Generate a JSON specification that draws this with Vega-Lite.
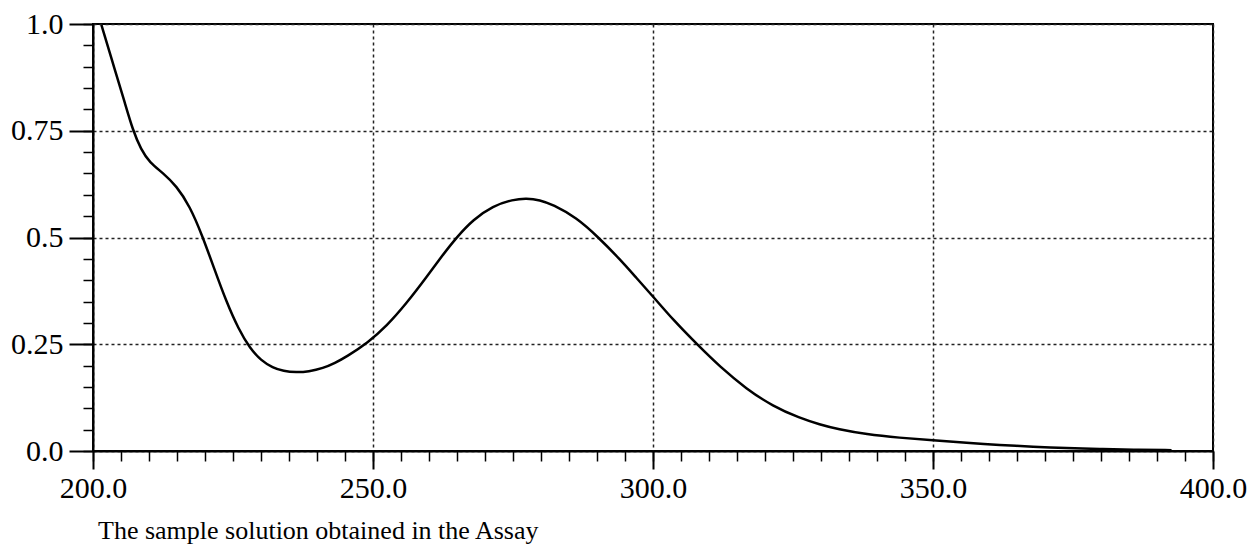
{
  "$schema": "https://vega.github.io/schema/vega-lite/v6.json",
  "width": 1120,
  "height": 427,
  "autosize": {"type": "none"},
  "padding": {"left": 93, "top": 24, "right": 41, "bottom": 93},
  "background": "white",
  "config": {
    "view": {"stroke": "black", "strokeWidth": 2},
    "font": "Liberation Serif"
  },
  "title": {
    "text": "The sample solution obtained in the Assay",
    "orient": "bottom",
    "anchor": "start",
    "frame": "group",
    "dx": 5,
    "offset": 15,
    "font": "Liberation Serif",
    "fontSize": 26,
    "fontWeight": "normal",
    "color": "black"
  },
  "data": {
    "values": [
      {"nm": 201.5, "abs": 0.998},
      {"nm": 203.9, "abs": 0.893},
      {"nm": 205.7, "abs": 0.815},
      {"nm": 207.1, "abs": 0.752},
      {"nm": 208.6, "abs": 0.705},
      {"nm": 210.1, "abs": 0.676},
      {"nm": 212.5, "abs": 0.651},
      {"nm": 214.9, "abs": 0.621},
      {"nm": 217.3, "abs": 0.573},
      {"nm": 219.5, "abs": 0.505},
      {"nm": 221.7, "abs": 0.425},
      {"nm": 223.8, "abs": 0.350},
      {"nm": 226.0, "abs": 0.285},
      {"nm": 228.0, "abs": 0.241},
      {"nm": 230.0, "abs": 0.212},
      {"nm": 232.1, "abs": 0.195},
      {"nm": 234.0, "abs": 0.187},
      {"nm": 236.3, "abs": 0.184},
      {"nm": 238.5, "abs": 0.186},
      {"nm": 241.1, "abs": 0.194},
      {"nm": 243.2, "abs": 0.206},
      {"nm": 245.3, "abs": 0.221},
      {"nm": 249.1, "abs": 0.254},
      {"nm": 252.4, "abs": 0.292},
      {"nm": 256.0, "abs": 0.346},
      {"nm": 259.5, "abs": 0.406},
      {"nm": 262.5, "abs": 0.460},
      {"nm": 264.9, "abs": 0.500},
      {"nm": 267.9, "abs": 0.542},
      {"nm": 271.4, "abs": 0.574},
      {"nm": 275.0, "abs": 0.589},
      {"nm": 277.4, "abs": 0.592},
      {"nm": 279.8, "abs": 0.588},
      {"nm": 282.1, "abs": 0.577},
      {"nm": 286.3, "abs": 0.547},
      {"nm": 290.2, "abs": 0.501},
      {"nm": 294.1, "abs": 0.449},
      {"nm": 297.0, "abs": 0.406},
      {"nm": 300.0, "abs": 0.362},
      {"nm": 303.6, "abs": 0.307},
      {"nm": 308.0, "abs": 0.248},
      {"nm": 311.9, "abs": 0.198},
      {"nm": 316.7, "abs": 0.145},
      {"nm": 321.4, "abs": 0.105},
      {"nm": 326.2, "abs": 0.077},
      {"nm": 329.8, "abs": 0.062},
      {"nm": 333.0, "abs": 0.051},
      {"nm": 338.1, "abs": 0.039},
      {"nm": 344.0, "abs": 0.031},
      {"nm": 350.0, "abs": 0.025},
      {"nm": 356.0, "abs": 0.019},
      {"nm": 361.9, "abs": 0.014},
      {"nm": 367.9, "abs": 0.010},
      {"nm": 373.8, "abs": 0.0065},
      {"nm": 379.8, "abs": 0.0045},
      {"nm": 385.7, "abs": 0.003},
      {"nm": 392.6, "abs": 0.002}
    ]
  },
  "layer": [
    {
      "mark": {"type": "point", "opacity": 0},
      "encoding": {
        "x": {
          "field": "nm", "type": "quantitative",
          "scale": {"domain": [200, 400], "nice": false, "zero": false},
          "axis": {
            "orient": "bottom",
            "values": [200,205,210,215,220,225,230,235,240,245,250,255,260,265,270,275,280,285,290,295,300,305,310,315,320,325,330,335,340,345,350,355,360,365,370,375,380,385,390,395,400],
            "labels": false, "title": null, "grid": false, "domain": false,
            "tickSize": 10, "tickWidth": 1.5, "tickColor": "black"
          }
        },
        "y": {
          "field": "abs", "type": "quantitative",
          "scale": {"domain": [0, 1], "nice": false},
          "axis": {
            "orient": "left",
            "values": [0,0.05,0.1,0.15,0.2,0.25,0.3,0.35,0.4,0.45,0.5,0.55,0.6,0.65,0.7,0.75,0.8,0.85,0.9,0.95,1],
            "labels": false, "title": null, "grid": false, "domain": false,
            "tickSize": 10, "tickWidth": 1.5, "tickColor": "black"
          }
        }
      }
    },
    {
      "mark": {"type": "line", "color": "black", "strokeWidth": 2.5, "interpolate": "basis"},
      "encoding": {
        "x": {
          "field": "nm", "type": "quantitative",
          "scale": {"domain": [200, 400], "nice": false, "zero": false},
          "axis": {
            "orient": "bottom",
            "values": [200, 250, 300, 350, 400],
            "labelExpr": "format(datum.value, '.1f')",
            "title": null,
            "grid": true, "gridDash": [3, 3], "gridColor": "#222", "gridWidth": 1.5, "gridOpacity": 1,
            "domain": true, "domainColor": "black", "domainWidth": 2,
            "tickSize": 18, "tickWidth": 2, "tickColor": "black",
            "labelFont": "Liberation Serif", "labelFontSize": 30, "labelColor": "black",
            "labelPadding": 4, "labelFlush": false, "labelOverlap": false
          }
        },
        "y": {
          "field": "abs", "type": "quantitative",
          "scale": {"domain": [0, 1], "nice": false},
          "axis": {
            "orient": "left",
            "values": [0, 0.25, 0.5, 0.75, 1],
            "labelExpr": "datum.value == 0 ? '0.0' : datum.value == 1 ? '1.0' : '' + datum.value",
            "title": null,
            "grid": true, "gridDash": [3, 3], "gridColor": "#222", "gridWidth": 1.5, "gridOpacity": 1,
            "domain": true, "domainColor": "black", "domainWidth": 2,
            "tickSize": 24, "tickWidth": 2, "tickColor": "black",
            "labelFont": "Liberation Serif", "labelFontSize": 30, "labelColor": "black",
            "labelPadding": 6, "labelFlush": false, "labelOverlap": false
          }
        }
      }
    }
  ],
  "resolve": {"axis": {"x": "independent", "y": "independent"}}
}
